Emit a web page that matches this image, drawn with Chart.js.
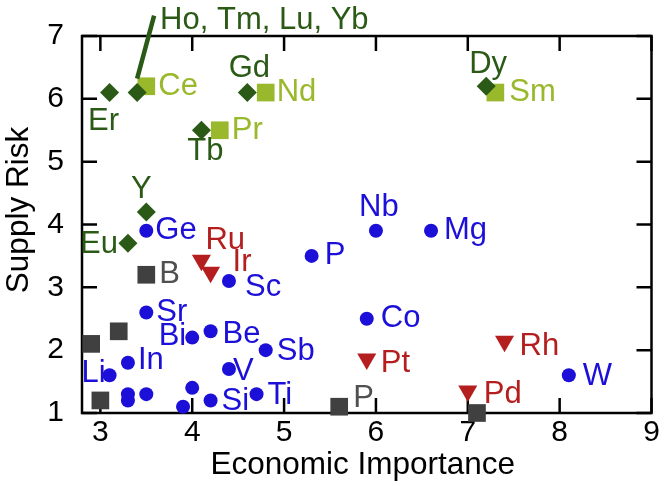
<!DOCTYPE html>
<html>
<head>
<meta charset="utf-8">
<script src="https://cdn.jsdelivr.net/npm/chart.js@4.4.0/dist/chart.umd.min.js"></script>
<style>
  html, body { margin: 0; padding: 0; background: #fff; }
  #wrap { width: 664px; height: 486px; }
</style>
</head>
<body>
<div id="wrap"><canvas id="risk-chart" width="664" height="486"></canvas></div>
<script>
// --- data ---
const xTicks = [3, 4, 5, 6, 7, 8, 9];
const yTicks = [1, 2, 3, 4, 5, 6, 7];

// heavy rare earths (dark green diamonds)
const heavyNames = ['Er', 'Ho, Tm, Lu, Yb', 'Gd', 'Tb', 'Y', 'Eu', 'Dy'];
const heavyX = [3.1, 3.4, 4.6, 4.1, 3.5, 3.3, 7.2];
const heavyY = [6.1, 6.1, 6.1, 5.5, 4.2, 3.7, 6.2];

// light rare earths (light green squares)
const lightNames = ['Ce', 'Nd', 'Pr', 'Sm'];
const lightX = [3.5, 4.8, 4.3, 7.3];
const lightY = [6.2, 6.1, 5.5, 6.1];

// other metals (blue circles)
const metalNames = ['Ge', 'Nb', 'Mg', 'P', 'Sc', 'Sr', 'Bi', 'Be', 'Sb', 'In', 'Li', 'V', 'Si', 'Ti', 'Co', 'W', '', '', '', '', ''];
const metalX = [3.5, 6.0, 6.6, 5.3, 4.4, 3.5, 4.0, 4.2, 4.8, 3.3, 3.1, 4.4, 4.2, 4.7, 5.9, 8.1, 4.0, 3.9, 3.3, 3.3, 3.5];
const metalY = [3.9, 3.9, 3.9, 3.5, 3.1, 2.6, 2.2, 2.3, 2.0, 1.8, 1.6, 1.7, 1.2, 1.3, 2.5, 1.6, 1.4, 1.1, 1.3, 1.2, 1.3];

// gray squares
const grayNames = ['B', '', '', '', 'P', ''];
const grayX = [3.5, 3.2, 2.9, 3.0, 5.6, 7.1];
const grayY = [3.2, 2.3, 2.1, 1.2, 1.1, 1.0];

// platinum group (red triangles)
const pgmNames = ['Ru', 'Ir', 'Pt', 'Rh', 'Pd'];
const pgmX = [4.1, 4.2, 5.9, 7.4, 7.0];
const pgmY = [3.43, 3.24, 1.86, 2.14, 1.35];

// --- styling ---
const FONT = '"Liberation Sans", Arial, Helvetica, sans-serif';
const DARK_GREEN = '#2a5a16';
const LIGHT_GREEN = '#99b82c';
const BLUE = '#1c10d8';
const GRAY = '#404040';
const GRAY_TEXT = '#505050';
const RED = '#b41e1e';

// label offsets (px) from the marker centre: [dx, dy, align]
const labelOffsets = {
    'Er': [-6, 29, 'center'], 'Ho, Tm, Lu, Yb': [23, -72, 'left'], 'Gd': [2, -24, 'center'],
    'Tb': [4, 21, 'center'], 'Y': [-5, -22, 'center'], 'Eu': [-10, 1, 'right'], 'Dy': [2, -22, 'center'],
    'Ce': [12, 0, 'left'], 'Nd': [11, 0, 'left'], 'Pr': [12, 0, 'left'], 'Sm': [14, 0, 'left'],
    'Ge': [9, 0, 'left'], 'Nb': [3, -23, 'center'], 'Mg': [13, 0, 'left'], 'P': [13, 0, 'left'],
    'Sc': [16, 6, 'left'], 'Sr': [10, 0, 'left'], 'Bi': [-6, -1, 'right'], 'Be': [12, 3, 'left'],
    'Sb': [11, 1, 'left'], 'In': [10, -2, 'left'], 'Li': [-4, -2, 'right'], 'V': [4, 2, 'left'],
    'Si': [11, 1, 'left'], 'Ti': [11, 1, 'left'], 'Co': [14, 0, 'left'], 'W': [14, 1, 'left'],
    'B': [13, 0, 'left'], 'Ru': [4, -20, 'left'], 'Ir': [22, -10, 'left'], 'Pt': [14, 4, 'left'],
    'Rh': [15, 5, 'left'], 'Pd': [16, 3, 'left']
};
// the gray "P" sits higher than the blue one
const grayOffsets = { 'P': [14, -8, 'left'] };

function toPoints(xs, ys) {
    return xs.map((x, i) => ({ x: x, y: ys[i] }));
}

function series(label, xs, ys, names, color, style, radius, rotation, textColor) {
    return {
        label: label,
        data: toPoints(xs, ys),
        names: names,
        textColor: textColor || color,
        pointStyle: style,
        pointRadius: radius,
        pointHoverRadius: radius,
        rotation: rotation || 0,
        backgroundColor: color,
        borderColor: color,
        borderWidth: 0,
        clip: false
    };
}

// Axis frame with inward ticks on all four sides
const framePlugin = {
    id: 'frame',
    beforeDatasetsDraw(chart) {
        const { ctx, chartArea: a, scales } = chart;
        const tick = 15;
        ctx.save();
        ctx.strokeStyle = '#000';
        ctx.lineWidth = 2.5;
        ctx.strokeRect(a.left, a.top, a.right - a.left, a.bottom - a.top);
        ctx.beginPath();
        xTicks.forEach(v => {
            const px = scales.x.getPixelForValue(v);
            ctx.moveTo(px, a.bottom); ctx.lineTo(px, a.bottom - tick);
            ctx.moveTo(px, a.top); ctx.lineTo(px, a.top + tick);
        });
        yTicks.forEach(v => {
            const py = scales.y.getPixelForValue(v);
            ctx.moveTo(a.left, py); ctx.lineTo(a.left + tick, py);
            ctx.moveTo(a.right, py); ctx.lineTo(a.right - tick, py);
        });
        ctx.stroke();
        ctx.restore();
    }
};

// Element names next to the markers, plus axis titles
const labelPlugin = {
    id: 'pointLabels',
    afterDatasetsDraw(chart) {
        const { ctx, chartArea: a } = chart;
        ctx.save();
        ctx.font = '31px ' + FONT;
        ctx.textBaseline = 'middle';
        chart.data.datasets.forEach((ds, di) => {
            const meta = chart.getDatasetMeta(di);
            meta.data.forEach((el, i) => {
                const name = ds.names[i];
                if (!name) return;
                const off = (ds.label === 'gray' && grayOffsets[name]) || labelOffsets[name];
                ctx.fillStyle = ds.textColor;
                ctx.textAlign = off[2];
                ctx.fillText(name, el.x + off[0], el.y + off[1]);
                if (name === 'Ho, Tm, Lu, Yb') {
                    ctx.strokeStyle = ds.textColor;
                    ctx.lineWidth = 4.5;
                    ctx.beginPath();
                    ctx.moveTo(el.x, el.y - 14);
                    ctx.lineTo(el.x + 17, el.y - 77);
                    ctx.stroke();
                }
            });
        });

        ctx.fillStyle = '#000';
        ctx.font = '31.5px ' + FONT;
        ctx.textAlign = 'center';
        ctx.fillText('Economic Importance', (a.left + a.right) / 2 - 4, 465);
        ctx.translate(19, 210);
        ctx.rotate(-Math.PI / 2);
        ctx.fillText('Supply Risk', 0, 0);
        ctx.restore();
    }
};

const ctx = document.getElementById('risk-chart');
new Chart(ctx, {
    type: 'scatter',
    data: {
        datasets: [
            series('heavy', heavyX, heavyY, heavyNames, DARK_GREEN, 'rectRot', 9.5),
            series('light', lightX, lightY, lightNames, LIGHT_GREEN, 'rect', 12.5),
            series('metal', metalX, metalY, metalNames, BLUE, 'circle', 7),
            series('gray', grayX, grayY, grayNames, GRAY, 'rect', 12.5, 0, GRAY_TEXT),
            series('pgm', pgmX, pgmY, pgmNames, RED, 'triangle', 11, 180)
        ]
    },
    options: {
        responsive: false,
        animation: false,
        layout: { padding: { top: 32, right: 10, left: 0, bottom: 0 } },
        plugins: {
            legend: { display: false },
            tooltip: { enabled: false }
        },
        scales: {
            x: {
                type: 'linear',
                min: 2.8,
                max: 9,
                afterBuildTicks: s => { s.ticks = xTicks.map(v => ({ value: v })); },
                afterFit: s => { s.height = 73; },
                grid: { display: false, drawTicks: false },
                border: { display: false },
                ticks: { color: '#000', font: { size: 30, family: FONT }, padding: 2 }
            },
            y: {
                type: 'linear',
                min: 1,
                max: 7,
                afterBuildTicks: s => { s.ticks = yTicks.map(v => ({ value: v })); },
                afterFit: s => { s.width = 82; },
                grid: { display: false, drawTicks: false },
                border: { display: false },
                ticks: { color: '#000', font: { size: 30, family: FONT }, padding: 18 }
            }
        }
    },
    plugins: [framePlugin, labelPlugin]
});
</script>
</body>
</html>
